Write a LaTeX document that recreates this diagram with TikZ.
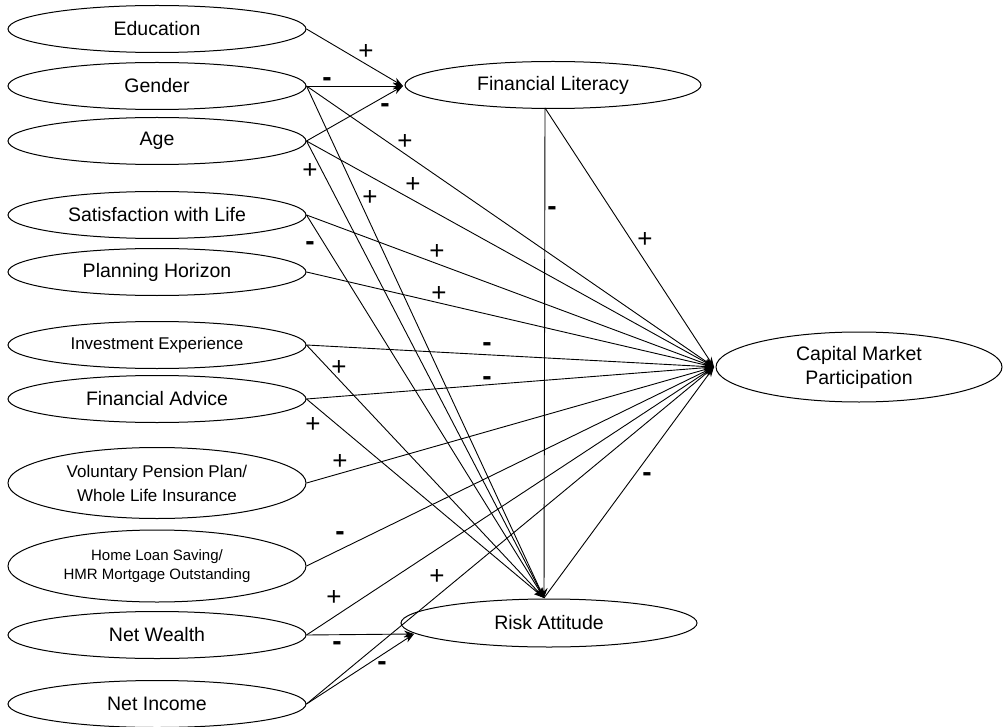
\documentclass[tikz,border=0pt]{standalone}
\usepackage{fontspec}
\setmainfont{Liberation Sans}
\usetikzlibrary{arrows.meta,shapes.geometric}
\begin{document}
\begin{tikzpicture}[x=1pt,y=-1pt,
  var/.style={draw,ellipse,line width=1pt,minimum width=298pt,minimum height=47pt,inner sep=0pt,align=center,font=\fontsize{19.5}{24}\selectfont},
  small/.style={font=\fontsize{17}{24}\selectfont},
  tiny/.style={font=\fontsize{15}{19.5}\selectfont},
  link/.style={line width=0.9pt,-{Stealth[length=10pt,width=7pt]}},
  plain/.style={line width=0.9pt},
  plus/.style={inner sep=0pt,font=\fontsize{26}{26}\selectfont},
  minus/.style={inner sep=0pt,font=\fontsize{28}{28}\selectfont\bfseries}]
\fill[white] (0,0) rectangle (1003,727);
\useasboundingbox (0,0) rectangle (1003,727);
% left variables
\node[var] (edu) at (157,29) {Education};
\node[var] (gen) at (157,86) {Gender};
\node[var] (age) at (157,141) {Age};
\node[var] (sat) at (157,215) {Satisfaction with Life};
\node[var] (plan) at (157,272) {Planning Horizon};
\node[var,small] (inv) at (157,345) {Investment Experience};
\node[var] (adv) at (157,399) {Financial Advice};
\node[var,small,minimum height=71pt] (vol) at (157,483) {Voluntary Pension Plan/\\Whole Life Insurance};
\node[var,tiny,minimum height=72pt] (home) at (157,566) {Home Loan Saving/\\HMR Mortgage Outstanding};
\node[var] (wea) at (157,635) {Net Wealth};
\node[var] (inc) at (157,704) {Net Income};
% mediators and outcome
\node[var,minimum width=296pt] (fl) at (553,85) {Financial Literacy};
\node[var,minimum width=296pt,minimum height=48pt] (ra) at (549,623) {Risk Attitude};
\node[var,minimum width=286pt,minimum height=70pt] (cmp) at (859,367) {Capital Market\\Participation};
% arrow tips
\coordinate (flin) at (403,86);
\coordinate (cmpin) at (714,367);
\coordinate (ratop) at (544,598);
\coordinate (raleft) at (414,634);
\coordinate (flbot) at (545,108);
% to financial literacy
\draw[link] (edu.east) -- (flin);
\draw[link] (gen.east) -- (flin);
\draw[link] (age.east) -- (flin);
% to capital market participation
\draw[link] (gen.east) -- (cmpin);
\draw[link] (age.east) -- (cmpin);
\draw[link] (sat.east) -- (cmpin);
\draw[link] (plan.east) -- (cmpin);
\draw[link] (inv.east) -- (cmpin);
\draw[link] (adv.east) -- (cmpin);
\draw[link] (vol.east) -- (cmpin);
\draw[link] (home.east) -- (cmpin);
\draw[link] (wea.east) -- (cmpin);
\draw[link] (inc.east) -- (cmpin);
\draw[link] (flbot) -- (cmpin);
\draw[link] (ratop) -- (cmpin);
% to risk attitude
\draw[link] (gen.east) -- (ratop);
\draw[link] (age.east) -- (ratop);
\draw[link] (sat.east) -- (ratop);
\draw[link] (inv.east) -- (ratop);
\draw[link] (adv.east) -- (ratop);
\draw[link] (flbot) -- (ratop);
\draw[link] (wea.east) -- (raleft);
\draw[link] (inc.east) -- (raleft);
% signs
\node[plus] (s1) at (366,52) {\vphantom{+}+};
\node[minus] (s2) at (327,78) {\vphantom{+}-};
\node[minus] (s3) at (385,104) {\vphantom{+}-};
\node[plus] (s4) at (405,142) {\vphantom{+}+};
\node[plus] (s5) at (310,171) {\vphantom{+}+};
\node[plus] (s6) at (413,185) {\vphantom{+}+};
\node[plus] (s7) at (370,198) {\vphantom{+}+};
\node[minus] (s8) at (310,242) {\vphantom{+}-};
\node[plus] (s9) at (437,252) {\vphantom{+}+};
\node[plus] (s10) at (439,294) {\vphantom{+}+};
\node[minus] (s11) at (552,207) {\vphantom{+}-};
\node[plus] (s12) at (645,240) {\vphantom{+}+};
\node[minus] (s13) at (487,343) {\vphantom{+}-};
\node[minus] (s14) at (487,377) {\vphantom{+}-};
\node[plus] (s15) at (339,368) {\vphantom{+}+};
\node[plus] (s16) at (313,425) {\vphantom{+}+};
\node[plus] (s17) at (340,462) {\vphantom{+}+};
\node[minus] (s18) at (340,532) {\vphantom{+}-};
\node[plus] (s19) at (334,598) {\vphantom{+}+};
\node[minus] (s20) at (337,642) {\vphantom{+}-};
\node[minus] (s21) at (382,662) {\vphantom{+}-};
\node[plus] (s22) at (437,577) {\vphantom{+}+};
\node[minus] (s23) at (647,473) {\vphantom{+}-};
\end{tikzpicture}
\end{document}
